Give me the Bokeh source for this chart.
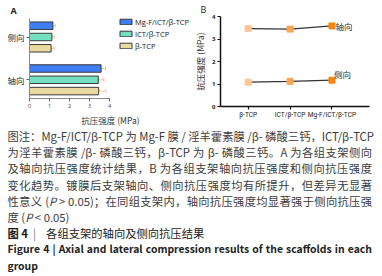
from bokeh.plotting import figure
from bokeh.layouts import row, column
from bokeh.models import (ColumnDataSource, Range1d, FixedTicker, Legend, LegendItem,
                          Title, Whisker, TeeHead, Div)
from bokeh.core.properties import value
from bokeh.embed import file_html
from bokeh.resources import INLINE

# ---------------- data ----------------
materials = ["β-TCP", "ICT/β-TCP", "Mg-F/ICT/β-TCP"]
directions = ["轴向", "侧向"]
axial = [3.46, 3.44, 3.58]
lateral = [1.08, 1.12, 1.17]
axial_err = [0.36, 0.28, 0.22]
lateral_err = [0.15, 0.12, 0.12]
strength_ticks = [0, 1, 2, 3, 4]
axis_title = "抗压强度 (MPa)"
line_names = ["轴向", "侧向"]
panel_letters = ["A", "B"]

caption_lines = [
    "图注：Mg-F/ICT/β-TCP 为 Mg-F 膜 / 淫羊藿素膜 /β- 磷酸三钙，ICT/β-TCP",
    "为淫羊藿素膜 /β- 磷酸三钙，β-TCP 为 β- 磷酸三钙。A 为各组支架侧向",
    "及轴向抗压强度统计结果，B 为各组支架轴向抗压强度和侧向抗压强度",
    "变化趋势。镀膜后支架轴向、侧向抗压强度均有所提升，但差异无显著",
    "性意义 (<i>P</i> &gt; 0.05)；在同组支架内，轴向抗压强度均显著强于侧向抗压强",
    "度 (<i>P</i> &lt; 0.05)",
]
title_cn = ("图 4", "各组支架的轴向及侧向抗压结果")
title_en = ("Figure 4", "Axial and lateral compression results of the scaffolds in each", "group")

# ---------------- styles ----------------
bar_colors = ["#ecd9a0", "#74dfc0", "#3f7ef4"]
marker_colors = ["#fdc693", "#f9a451", "#f2870f"]
err_color = "#f7c59b"
CJK = "Noto Sans CJK SC"
LAT = "Open Sans"


def letter_title(txt, off, style, standoff):
    return Title(text=txt, align="left", offset=off, standoff=standoff,
                 text_font=LAT, text_font_size="9px", text_font_style=style,
                 text_color="#222222")


# ---------------- panel A ----------------
# frame spans to the right edge so the legend sits inside it; axis lines bounded
pA = figure(frame_width=162, frame_height=82, output_backend="svg", toolbar_location=None,
            x_range=Range1d(0, 8.1), y_range=Range1d(-0.437, 1.479),
            min_border_left=29, min_border_right=0, min_border_top=13, min_border_bottom=30)
pA.grid.visible = False
pA.outline_line_color = None
pA.title = letter_title(panel_letters[0], -19, "bold", 0)

dodge = 0.264
bar_h = 0.175
bar_renderers = []
for i, m in enumerate(materials):
    off = (i - 1) * dodge
    vals = [axial[i], lateral[i]]
    errs = [axial_err[i], lateral_err[i]]
    src = ColumnDataSource(dict(
        y=[d + off for d in range(len(directions))],
        v=vals,
        hi=[a + b for a, b in zip(vals, errs)],
    ))
    r = pA.hbar(y="y", right="v", left=0, height=bar_h, source=src,
                fill_color=bar_colors[i], line_color="#3a3a3a", line_width=1)
    bar_renderers.append(r)
    w = Whisker(base="y", lower="v", upper="hi", dimension="width", source=src,
                line_color=err_color, line_width=1,
                upper_head=TeeHead(size=4, line_color=err_color, line_width=1),
                lower_head=None)
    pA.add_layout(w)

pA.xaxis.ticker = FixedTicker(ticks=strength_ticks)
pA.xaxis.bounds = (strength_ticks[0], strength_ticks[-1])
pA.yaxis.bounds = (-0.437, 1.432)
pA.xaxis.axis_label = axis_title
pA.xaxis.axis_label_text_font = CJK
pA.xaxis.axis_label_text_font_size = "8.5px"
pA.xaxis.axis_label_text_font_style = "normal"
pA.xaxis.axis_label_text_color = "#333333"
pA.xaxis.axis_label_standoff = 3
pA.xaxis.major_label_text_font = LAT
pA.xaxis.major_label_text_font_size = "5.5px"
pA.xaxis.major_label_text_color = "#444444"
pA.xaxis.major_label_standoff = 2
pA.yaxis.ticker = FixedTicker(ticks=list(range(len(directions))))
pA.yaxis.major_label_overrides = {i: d for i, d in enumerate(directions)}
pA.yaxis.major_label_text_font = CJK
pA.yaxis.major_label_text_font_size = "8.5px"
pA.yaxis.major_label_text_color = "#2a2a2a"
pA.yaxis.major_label_standoff = 2
for ax in (pA.xaxis[0], pA.yaxis[0]):
    ax.axis_line_color = "#8a8a8a"
    ax.axis_line_width = 1
    ax.major_tick_line_color = "#666666"
    ax.major_tick_out = 3
    ax.major_tick_in = 0
    ax.minor_tick_out = 0
    ax.minor_tick_in = 0

legend = Legend(items=[LegendItem(label=materials[i], renderers=[bar_renderers[i]])
                       for i in reversed(range(len(materials)))],
                location=(89, 47.5), orientation="vertical",
                glyph_width=15, glyph_height=7, label_height=7, spacing=2,
                label_standoff=2, padding=0, margin=0,
                label_text_font=LAT, label_text_font_size="7.5px",
                label_text_color="#222222",
                border_line_color=None, background_fill_alpha=0)
pA.add_layout(legend)

# ---------------- panel B ----------------
pB = figure(frame_width=149, frame_height=90, output_backend="svg", toolbar_location=None,
            x_range=Range1d(-0.661, 2.895), y_range=Range1d(0, 4),
            min_border_left=23, min_border_right=19, min_border_top=15, min_border_bottom=20)
pB.grid.visible = False
pB.outline_line_color = None
pB.title = letter_title(panel_letters[1], -20, "normal", 1)

xs = list(range(len(materials)))
for series in (axial, lateral):
    pB.line(xs, series, line_color="#333333", line_width=1.3)
    pB.scatter(xs, series, marker="square", size=6,
               fill_color=marker_colors, line_color=marker_colors)

lab_src = ColumnDataSource(dict(
    x=[xs[-1], xs[-1]], y=[axial[-1], lateral[-1]], t=line_names,
    xo=[3.5, 2.0], yo=[0.0, -6.5]))
pB.text(x="x", y="y", text="t", x_offset="xo", y_offset="yo", source=lab_src,
        text_font=value(CJK), text_font_size="8.5px", text_color="#333333",
        text_align="left", text_baseline="middle")

pB.xaxis.ticker = FixedTicker(ticks=xs)
pB.xaxis.major_label_overrides = {i: m for i, m in enumerate(materials)}
pB.xaxis.major_label_text_font = "Roboto"
pB.xaxis.major_label_text_font_size = "6.6px"
pB.xaxis.major_label_text_color = "#222222"
pB.xaxis.major_label_standoff = 1
pB.yaxis.ticker = FixedTicker(ticks=strength_ticks)
pB.yaxis.major_label_text_font = LAT
pB.yaxis.major_label_text_font_size = "6px"
pB.yaxis.major_label_text_font_style = "bold"
pB.yaxis.major_label_text_color = "#222222"
pB.yaxis.major_label_standoff = 2
pB.yaxis.axis_label = axis_title
pB.yaxis.axis_label_text_font = CJK
pB.yaxis.axis_label_text_font_size = "8.5px"
pB.yaxis.axis_label_text_font_style = "normal"
pB.yaxis.axis_label_text_color = "#333333"
pB.yaxis.axis_label_standoff = 3
for ax in (pB.xaxis[0], pB.yaxis[0]):
    ax.axis_line_color = "#111111"
    ax.axis_line_width = 1.5
    ax.major_tick_line_color = "#111111"
    ax.major_tick_line_width = 1.2
    ax.major_tick_out = 3
    ax.major_tick_in = 0
    ax.minor_tick_out = 0
    ax.minor_tick_in = 0

# ---------------- caption ----------------
J = ("white-space:nowrap;text-align:justify;text-align-last:justify;"
     "height:16.2px;line-height:16.2px;")
L = "white-space:nowrap;text-align:left;height:16.2px;line-height:16.2px;"
parts = []
for k, t in enumerate(caption_lines):
    st = L if k == len(caption_lines) - 1 else J
    parts.append(f'<div style="{st}">{t}</div>')
parts.append(f'<div style="{L}color:#1a1a1a;"><b>{title_cn[0]}</b>'
             f'<span style="color:#777;margin:0 10px 0 5px;">|</span>{title_cn[1]}</div>')
parts.append(f'<div style="{J}font-weight:bold;color:#222;font-size:10.4px;">'
             f'{title_en[0]} | {title_en[1]}</div>')
parts.append(f'<div style="{L}font-weight:bold;color:#222;font-size:10.4px;">{title_en[2]}</div>')
html = (f'<div style="width:364.5px;margin-left:7.5px;padding-top:1px;'
        f'font-family:\'{CJK}\';font-size:11.3px;color:#3c3c3c;">' + "".join(parts) + "</div>")
cap = Div(text=html, width=382, height=151, margin=0)

layout = column(row(pA, pB, spacing=0), cap, spacing=0)
open("out.html", "w").write(file_html(layout, INLINE))
